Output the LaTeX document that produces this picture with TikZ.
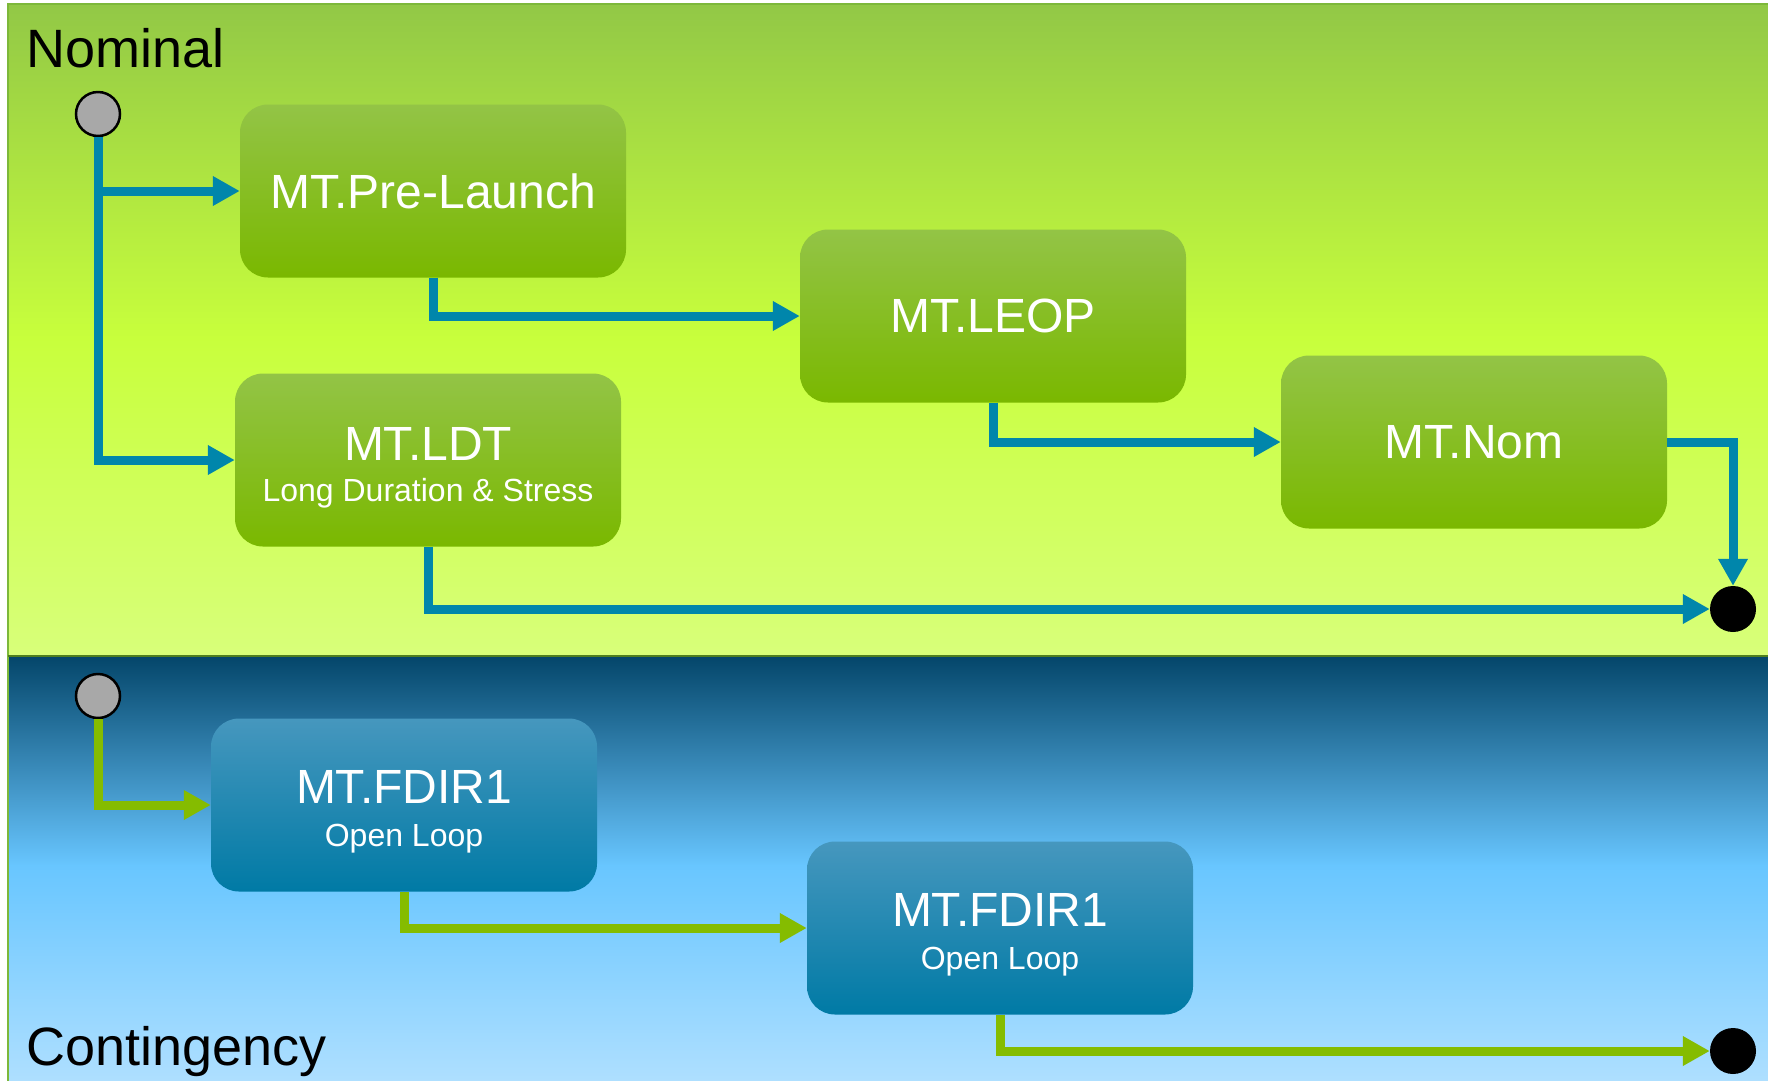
\documentclass[tikz,border=0pt]{standalone}
\usepackage{fontspec}
\setmainfont{Liberation Sans}
\usetikzlibrary{arrows.meta}

% swimlane backgrounds
\definecolor{nomTop}{HTML}{92C846}
\definecolor{nomMid}{HTML}{C8FF3C}
\definecolor{nomBot}{HTML}{D8FF7A}
\definecolor{conTop}{HTML}{04466A}
\definecolor{conMid}{HTML}{68C6FF}
\definecolor{conBot}{HTML}{AEDFFF}
% state boxes
\definecolor{gbTop}{HTML}{93C446}
\definecolor{gbMid}{HTML}{86C300}
\definecolor{gbBot}{HTML}{7AB800}
\definecolor{bbTop}{HTML}{4697BE}
\definecolor{bbMid}{HTML}{0389BA}
\definecolor{bbBot}{HTML}{007AA5}
% transitions and frame
\definecolor{flowBlue}{HTML}{0086AB}
\definecolor{flowGreen}{HTML}{85BC00}
\definecolor{frameGreen}{HTML}{7DB83A}
\definecolor{laneLine}{HTML}{4F7F1F}
\definecolor{initGray}{HTML}{A8A8A8}

\tikzset{
  state/.style={rounded corners=28pt, minimum width=386pt, minimum height=173pt,
    inner sep=0pt, text=white, font=\fontsize{48}{56}\selectfont},
  greenstate/.style={state, top color=gbTop, middle color=gbMid, bottom color=gbBot},
  bluestate/.style={state, top color=bbTop, middle color=bbMid, bottom color=bbBot},
  titlelabel/.style={text=white, font=\fontsize{48}{56}\selectfont, anchor=base, inner sep=0pt},
  sublabel/.style={text=white, font=\fontsize{32}{38}\selectfont, anchor=base, inner sep=0pt},
  lanelabel/.style={text=black, font=\fontsize{54}{62}\selectfont, anchor=base west, inner sep=0pt},
  initstate/.style={circle, draw=black, line width=2.5pt, fill=initGray, minimum size=44pt, inner sep=0pt},
  finalstate/.style={circle, fill=black, minimum size=46pt, inner sep=0pt},
  bflow/.style={draw=flowBlue, line width=9pt, -{Triangle[length=27pt,width=28pt]}},
  gflow/.style={draw=flowGreen, line width=9pt, -{Triangle[length=27pt,width=28pt]}},
}

\begin{document}
\begin{tikzpicture}[x=1pt, y=-1pt]
  \useasboundingbox (0,0) rectangle (1768,1080);
  \clip (0,0) rectangle (1768,1080);

  % lanes, each a two-part linear gradient
  \shade[top color=nomTop, bottom color=nomMid] (8,4) rectangle (1790,339);
  \shade[top color=nomMid, bottom color=nomBot] (8,338) rectangle (1790,656);
  \shade[top color=conTop, bottom color=conMid] (8,656) rectangle (1790,866);
  \shade[top color=conMid, bottom color=conBot] (8,865) rectangle (1790,1080);
  \draw[frameGreen, line width=1.5pt] (1790,4) -- (8,4) -- (8,1100);
  \draw[laneLine, line width=2.5pt] (8,656) -- (1790,656);

  \node[lanelabel] (lnom) at (26,67) {Nominal};
  \node[lanelabel] (lcon) at (26,1065) {Contingency};

  % nominal lane
  \node[initstate] (initN) at (98,114) {};
  \node[greenstate] (pre) at (433,191) {MT.Pre-Launch};
  \node[greenstate] (leop) at (993,316) {MT.LEOP};
  \node[greenstate] (nom) at (1474,442) {MT.Nom};
  \node[greenstate] (ldt) at (428,460) {};
  \node[titlelabel] (ldtT) at (ldt.center) {MT.LDT};
  \node[sublabel] (ldtS) at ([yshift=-41pt]ldt.center) {Long Duration \& Stress};
  \node[finalstate] (endN) at (1733,609) {};

  % contingency lane
  \node[initstate] (initC) at (98,696) {};
  \node[bluestate] (fa) at (404,805) {};
  \node[titlelabel] (faT) at ([yshift=2pt]fa.center) {MT.FDIR1};
  \node[sublabel] (faS) at ([yshift=-41pt]fa.center) {Open Loop};
  \node[bluestate] (fb) at (1000,928) {};
  \node[titlelabel] (fbT) at ([yshift=2pt]fb.center) {MT.FDIR1};
  \node[sublabel] (fbS) at ([yshift=-41pt]fb.center) {Open Loop};
  \node[finalstate] (endC) at (1733,1051) {};

  % nominal transitions
  \draw[bflow] (initN.south) |- (pre.west);
  \draw[bflow] (initN.south) |- (ldt.west);
  \draw[bflow] (pre.south) |- (leop.west);
  \draw[bflow] (leop.south) |- (nom.west);
  \draw[bflow] (nom.east) -| (endN.north);
  \draw[bflow] (ldt.south) |- (endN.west);

  % contingency transitions
  \draw[gflow] (initC.south) |- (fa.west);
  \draw[gflow] (fa.south) |- (fb.west);
  \draw[gflow] (fb.south) |- (endC.west);
\end{tikzpicture}
\end{document}
